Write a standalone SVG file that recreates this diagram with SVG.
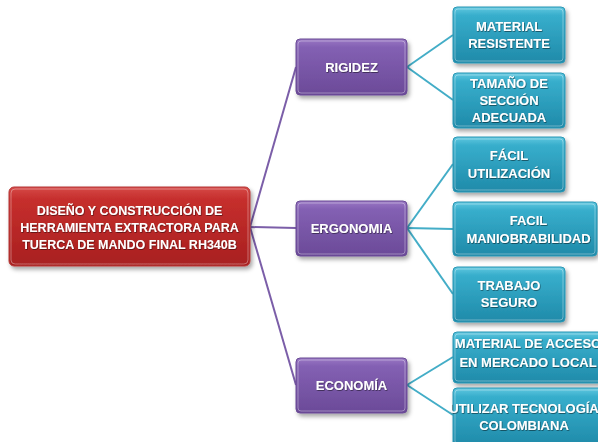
<svg xmlns="http://www.w3.org/2000/svg" width="598" height="442" viewBox="0 0 598 442">
<defs>
<linearGradient id="gRed" x1="0" y1="0" x2="0" y2="1">
<stop offset="0" stop-color="#d64a48"/><stop offset="0.15" stop-color="#c62f2d"/><stop offset="1" stop-color="#a81f1f"/>
</linearGradient>
<linearGradient id="gPur" x1="0" y1="0" x2="0" y2="1">
<stop offset="0" stop-color="#9a78c4"/><stop offset="0.15" stop-color="#8360b3"/><stop offset="1" stop-color="#6b4a98"/>
</linearGradient>
<linearGradient id="gCya" x1="0" y1="0" x2="0" y2="1">
<stop offset="0" stop-color="#62c8e0"/><stop offset="0.15" stop-color="#37aecc"/><stop offset="1" stop-color="#1f8aa9"/>
</linearGradient>
<filter id="sh" x="-10%" y="-10%" width="125%" height="135%">
<feDropShadow dx="2" dy="3" stdDeviation="2" flood-color="#000" flood-opacity="0.35"/>
</filter>
<filter id="tsh" x="-5%" y="-20%" width="110%" height="150%">
<feDropShadow dx="0.6" dy="0.8" stdDeviation="0.6" flood-color="#000" flood-opacity="0.55"/>
</filter>
</defs>
<style>
.red{fill:url(#gRed);stroke:#b53a38;stroke-width:1;filter:url(#sh)}
.pur{fill:url(#gPur);stroke:#6a4b95;stroke-width:1;filter:url(#sh)}
.cya{fill:url(#gCya);stroke:#2c97b5;stroke-width:1;filter:url(#sh)}
.hl{fill:none;stroke:#ffffff;stroke-opacity:0.35;stroke-width:1}
text{font-family:"Liberation Sans",Arial,sans-serif;font-weight:bold;fill:#ffffff;text-anchor:middle;font-size:13px;filter:url(#tsh)}
.root{font-size:12.5px}
.lp{stroke:#7b5ea8;stroke-width:2;fill:none}
.lc{stroke:#43adc7;stroke-width:2;fill:none}
</style>
<rect width="598" height="442" fill="#ffffff"/>
<g id="connectors">
<line class="lp" x1="250" y1="227" x2="296" y2="67"/>
<line class="lp" x1="250" y1="227" x2="296" y2="228"/>
<line class="lp" x1="250" y1="227" x2="296" y2="385"/>
<line class="lc" x1="407" y1="67" x2="453" y2="35"/>
<line class="lc" x1="407" y1="67" x2="453" y2="100"/>
<line class="lc" x1="407" y1="228" x2="453" y2="164"/>
<line class="lc" x1="407" y1="228" x2="453" y2="229"/>
<line class="lc" x1="407" y1="228" x2="453" y2="294"/>
<line class="lc" x1="407" y1="385" x2="453" y2="357"/>
<line class="lc" x1="407" y1="385" x2="453" y2="415"/>
</g>
<g id="root">
<rect class="red" x="9" y="187" width="241" height="79" rx="5"/>
<rect class="hl" x="11" y="189" width="237" height="75" rx="4"/>
<text class="root" x="129.5" y="215">DISEÑO Y CONSTRUCCIÓN DE</text>
<text class="root" x="129.5" y="232">HERRAMIENTA EXTRACTORA PARA</text>
<text class="root" x="129.5" y="249">TUERCA DE MANDO FINAL RH340B</text>
</g>
<g id="rigidez">
<rect class="pur" x="296" y="39" width="111" height="56" rx="4"/>
<rect class="hl" x="298" y="41" width="107" height="52" rx="3"/>
<text x="351.5" y="72">RIGIDEZ</text>
</g>
<g id="ergonomia">
<rect class="pur" x="296" y="201" width="111" height="55" rx="4"/>
<rect class="hl" x="298" y="203" width="107" height="51" rx="3"/>
<text x="351.5" y="233">ERGONOMIA</text>
</g>
<g id="economia">
<rect class="pur" x="296" y="358" width="111" height="55" rx="4"/>
<rect class="hl" x="298" y="360" width="107" height="51" rx="3"/>
<text x="351.5" y="390">ECONOMÍA</text>
</g>
<g id="material-resistente">
<rect class="cya" x="453" y="7" width="112" height="56" rx="4"/>
<rect class="hl" x="455" y="9" width="108" height="52" rx="3"/>
<text x="509" y="31">MATERIAL</text>
<text x="509" y="48">RESISTENTE</text>
</g>
<g id="tamano">
<rect class="cya" x="453" y="73" width="112" height="55" rx="4"/>
<rect class="hl" x="455" y="75" width="108" height="51" rx="3"/>
<text x="509" y="88">TAMAÑO DE</text>
<text x="509" y="105">SECCIÓN</text>
<text x="509" y="122">ADECUADA</text>
</g>
<g id="facil-utilizacion">
<rect class="cya" x="453" y="137" width="112" height="55" rx="4"/>
<rect class="hl" x="455" y="139" width="108" height="51" rx="3"/>
<text x="509" y="160">FÁCIL</text>
<text x="509" y="178">UTILIZACIÓN</text>
</g>
<g id="facil-maniobrabilidad">
<rect class="cya" x="453" y="202" width="144" height="54" rx="4"/>
<rect class="hl" x="455" y="204" width="140" height="50" rx="3"/>
<text x="528.5" y="225">FACIL</text>
<text x="528.5" y="243">MANIOBRABILIDAD</text>
</g>
<g id="trabajo-seguro">
<rect class="cya" x="453" y="267" width="112" height="55" rx="4"/>
<rect class="hl" x="455" y="269" width="108" height="51" rx="3"/>
<text x="509" y="290">TRABAJO</text>
<text x="509" y="307">SEGURO</text>
</g>
<g id="material-acceso">
<rect class="cya" x="453" y="332" width="150" height="51" rx="4"/>
<rect class="hl" x="455" y="334" width="146" height="47" rx="3"/>
<text x="528" y="348">MATERIAL DE ACCESO</text>
<text x="528" y="367">EN MERCADO LOCAL</text>
</g>
<g id="tecnologia">
<rect class="cya" x="453" y="388" width="150" height="58" rx="4"/>
<rect class="hl" x="455" y="390" width="146" height="54" rx="3"/>
<text x="524" y="413">UTILIZAR TECNOLOGÍA</text>
<text x="524" y="430">COLOMBIANA</text>
</g>
</svg>
